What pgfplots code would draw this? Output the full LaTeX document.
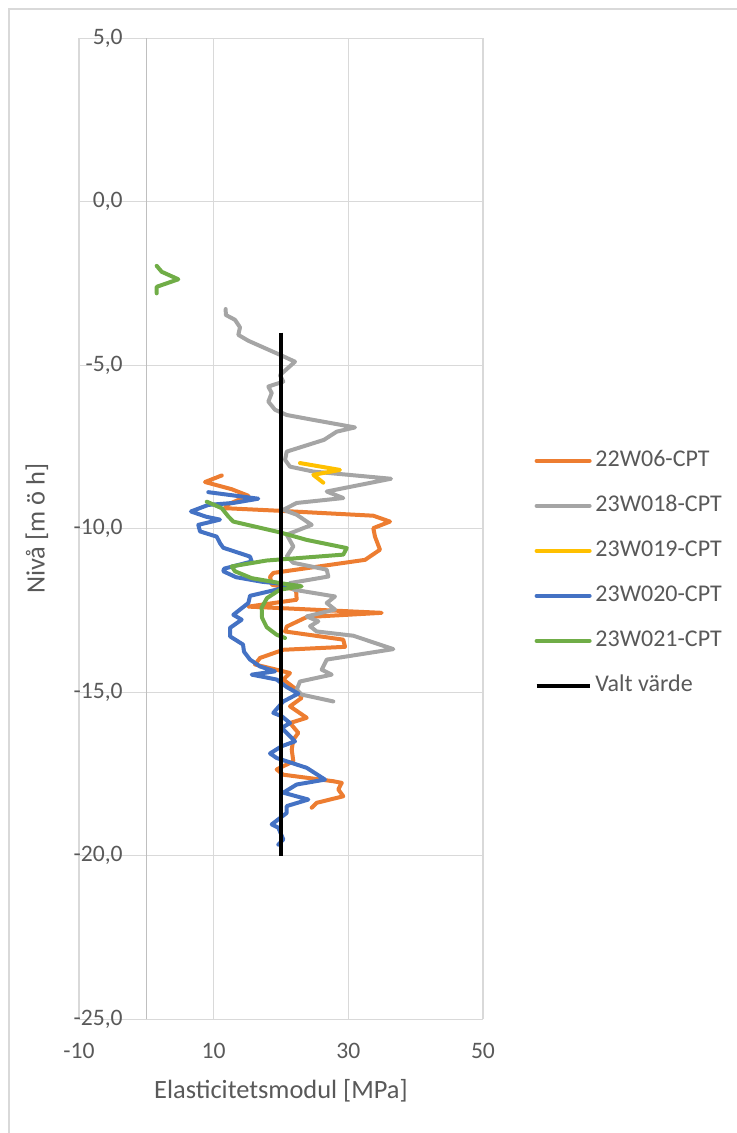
\documentclass[border=0pt]{standalone}
\usepackage{fontspec}
\setmainfont{Carlito}
\usepackage{pgfplots}
\pgfplotsset{compat=1.18}
\definecolor{cOr}{HTML}{ED7D31}
\definecolor{cGr}{HTML}{A5A5A5}
\definecolor{cYe}{HTML}{FFC000}
\definecolor{cBl}{HTML}{4472C4}
\definecolor{cGn}{HTML}{70AD47}
\definecolor{cTx}{HTML}{595959}
\definecolor{cGrid}{HTML}{D9D9D9}
\definecolor{cAx}{HTML}{BFBFBF}
\begin{document}
\begin{tikzpicture}
\useasboundingbox (0,0) rectangle (368.5pt,566.5pt);
\draw[cGrid, line width=0.6pt] (4.5pt,0pt) -- (4.5pt,562pt) -- (368.5pt,562pt);
\begin{axis}[
 at={(39.5pt,56.85pt)}, anchor=south west,
 width=202pt, height=490.5pt, scale only axis,
 xmin=-10, xmax=50, ymin=-25, ymax=5,
 xtick={-10,10,30,50}, xticklabels={-10,10,30,50},
 ytick={-25,-20,-15,-10,-5,0,5},
 yticklabels={{-25,0},{-20,0},{-15,0},{-10,0},{-5,0},{0,0},{5,0}},
 extra x ticks={0}, extra x tick labels={},
 extra x tick style={major grid style={cAx, line width=0.65pt}},
 grid=major, major grid style={cGrid, line width=0.65pt},
 axis line style={draw=none}, major tick length=0pt,
 tick label style={font=\fontsize{11.8}{13}\selectfont, text=cTx, inner sep=0pt},
 xticklabel style={yshift=-11.85pt},
 yticklabel style={xshift=22pt},
 xlabel={Elasticitetsmodul [MPa]}, ylabel={Nivå [m ö h]},
 label style={font=\fontsize{13.2}{15}\selectfont, text=cTx, inner sep=0pt},
 xlabel style={at={(axis description cs:0.5,-0.0731)}, anchor=center},
 ylabel style={at={(axis description cs:-0.104,0.5)}, anchor=center},
 legend style={at={(axis description cs:1.1263,0.5803)}, anchor=north west,
   draw=none, fill=none, inner sep=0pt, font=\fontsize{12}{13}\selectfont,
   text=cTx, row sep=12pt, column sep=1.8pt,
   nodes={inner sep=0pt, text height=8pt, text depth=2.5pt}},
 legend cell align=left,
 legend image code/.code={\draw[#1] (0pt,0pt) -- (26.5pt,0pt);},
 unbounded coords=jump,
 every axis plot/.append style={line width=2pt, line join=round, line cap=round, mark=none},
]
% 22W06-CPT
\addplot[cOr] coordinates {
(11.19,-8.37) (8.71,-8.57) (12.68,-8.79) (15.15,-8.99) (11.94,-9.27) (11.68,-9.37)
(19.85,-9.45) (33.71,-9.60) (36.19,-9.78) (33.71,-9.98) (33.96,-10.24) (34.70,-10.64)
(32.48,-10.95) (18.86,-11.35) (18.37,-11.47) (18.66,-11.71) (22.23,-11.86) (22.33,-12.17)
(15.15,-12.38) (34.96,-12.57) (23.82,-12.70) (20.85,-12.99) (20.60,-13.14) (29.25,-13.39)
(29.51,-13.61) (20.34,-13.70) (16.88,-13.95) (16.14,-14.15) (21.34,-14.41) (20.34,-14.61)
(22.33,-14.92) (23.07,-15.17) (21.34,-15.43) (23.82,-15.78) (21.34,-15.94) (22.57,-16.24)
(21.83,-16.45) (21.59,-16.75) (21.83,-17.11) (19.36,-17.36) (20.34,-17.52) (27.77,-17.72)
(29.02,-17.77) (28.51,-17.97) (29.25,-18.18) (25.30,-18.38) (24.56,-18.53)
};
\addlegendentry{22W06-CPT}
% 23W018-CPT
\addplot[cGr] coordinates {
(11.79,-3.28) (11.80,-3.46) (13.17,-3.61) (13.91,-3.84) (13.66,-4.07) (15.15,-4.25)
(19.85,-4.68) (22.08,-4.89) (19.85,-5.30) (20.34,-5.50) (18.12,-5.65) (18.62,-5.85)
(18.12,-6.11) (19.11,-6.36) (20.85,-6.52) (24.80,-6.67) (30.99,-6.90) (28.27,-7.03)
(26.39,-7.28) (20.85,-7.64) (20.60,-7.89) (21.34,-8.10) (24.80,-8.25) (36.34,-8.47)
(26.79,-8.86) (29.25,-9.06) (22.33,-9.21) (20.34,-9.42) (22.33,-9.57) (24.56,-9.88)
(20.85,-10.18) (21.83,-10.54) (20.85,-10.85) (21.83,-11.04) (26.79,-11.25) (27.03,-11.46)
(21.34,-11.66) (21.83,-11.86) (28.02,-12.07) (26.79,-12.27) (28.02,-12.47) (23.82,-12.68)
(25.54,-12.83) (24.31,-12.98) (25.30,-13.14) (30.74,-13.27) (36.68,-13.68) (26.79,-14.00)
(26.05,-14.31) (27.53,-14.46) (22.82,-14.67) (22.33,-14.92) (23.07,-15.07) (27.77,-15.28)
};
\addlegendentry{23W018-CPT}
% 23W019-CPT
\addplot[cYe] coordinates {
(22.82,-7.99) (28.76,-8.20) (24.80,-8.35) (26.28,-8.59)
};
\addlegendentry{23W019-CPT}
% 23W020-CPT
\addplot[cBl] coordinates {
(9.20,-8.88) (16.63,-9.08) (12.92,-9.21) (9.20,-9.27) (6.63,-9.47) (8.86,-9.63)
(10.94,-9.72) (7.72,-9.88) (7.97,-10.08) (10.45,-10.24) (10.94,-10.44) (11.43,-10.58)
(15.40,-10.85) (15.65,-11.00) (11.54,-11.22) (11.43,-11.30) (13.32,-11.48) (17.18,-11.62)
(21.34,-11.71) (19.36,-11.86) (15.40,-12.05) (15.15,-12.27) (12.92,-12.63) (14.16,-12.78)
(12.43,-13.03) (12.43,-13.29) (14.36,-13.54) (14.51,-13.76) (15.40,-14.00) (16.88,-14.21)
(19.11,-14.36) (15.65,-14.46) (19.36,-14.61) (20.85,-14.84) (22.57,-15.04) (20.34,-15.28)
(18.86,-15.63) (20.10,-15.73) (21.34,-15.94) (20.10,-16.09) (22.08,-16.50) (20.10,-16.65)
(18.37,-16.87) (19.36,-17.01) (23.82,-17.31) (26.54,-17.67) (22.33,-17.82) (20.34,-18.07)
(24.06,-18.28) (20.85,-18.48) (20.85,-18.69) (18.62,-19.04) (19.60,-19.14) (20.34,-19.50)
(19.60,-19.66)
};
\addlegendentry{23W020-CPT}
% 23W021-CPT
\addplot[cGn] coordinates {
(1.54,-1.96) (2.28,-2.14) (4.75,-2.37) (1.54,-2.60) (1.54,-2.80)
(nan,nan)
(8.97,-9.17) (11.19,-9.37) (12.17,-9.62) (12.92,-9.78) (19.85,-10.11) (23.82,-10.34)
(29.76,-10.59) (29.25,-10.79) (17.88,-10.97) (12.68,-11.15) (13.17,-11.30) (15.65,-11.51)
(19.85,-11.66) (23.07,-11.76) (19.85,-11.86) (17.92,-12.12) (17.13,-12.41) (17.18,-12.72)
(17.88,-13.01) (19.36,-13.24) (20.60,-13.34)
};
\addlegendentry{23W021-CPT}
% Valt varde
\addplot[black, line width=2.2pt, line cap=butt] coordinates {(20,-4) (20,-20)};
\addlegendentry{Valt värde}
\end{axis}
\end{tikzpicture}
\end{document}
